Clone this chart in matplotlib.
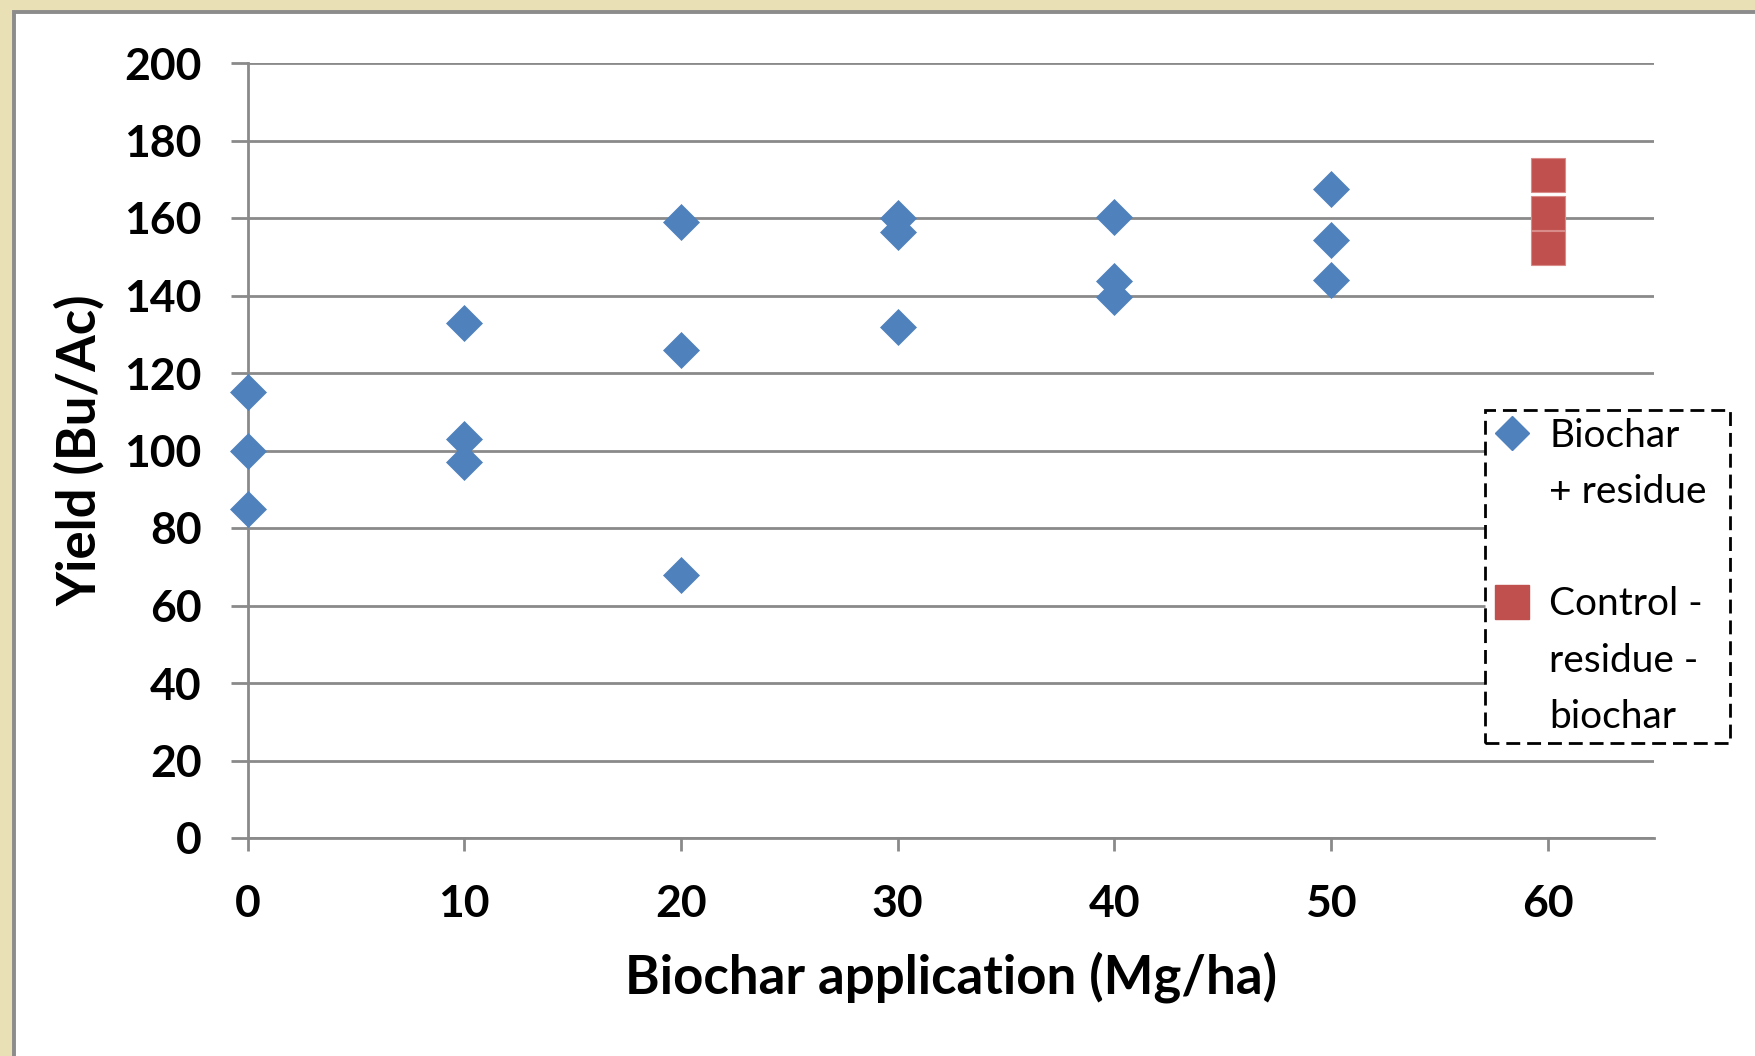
import matplotlib
matplotlib.use("Agg")
import matplotlib.pyplot as plt
from matplotlib.lines import Line2D
from matplotlib.patches import Rectangle

# ---------------- data ----------------
biochar_rate = [0, 0, 0, 10, 10, 10, 20, 20, 20, 30, 30, 30, 40, 40, 40, 50, 50, 50]
biochar_yield = [115, 100, 85, 133, 103, 97, 159, 126, 68, 160, 156.5, 132,
                 160.3, 143.8, 139.7, 167.6, 154.3, 144]
control_rate = [60, 60, 60]
control_yield = [171, 161.2, 152.3]
x_ticks = [0, 10, 20, 30, 40, 50, 60]
y_ticks = [0, 20, 40, 60, 80, 100, 120, 140, 160, 180, 200]
x_label = "Biochar application (Mg/ha)"
y_label = "Yield (Bu/Ac)"
legend_labels = ["Biochar\n+ residue", "Control -\nresidue -\nbiochar"]

# ---------------- style ----------------
FONT = ["Lato", "DejaVu Sans"]
plt.rcParams['font.family'] = FONT
BLUE = "#4F81BD"
RED = "#C0504D"
GRID = "#8a8a8a"

W, H = 1756, 1056
fig = plt.figure(figsize=(W / 100, H / 100), dpi=100, facecolor="#E9E1B5")
fig.patches.append(Rectangle((14 / W, -0.1), 1.2, (H - 12) / H + 0.1,
                             transform=fig.transFigure, facecolor="white",
                             edgecolor="#8c8c8c", lw=2.8, zorder=-10))

ax = fig.add_axes([247.5 / W, 218 / H, (1654 - 247.5) / W, 775 / H])
ax.set_facecolor("white")
ax.set_xlim(0, 64.9)
ax.set_ylim(0, 200)
ax.set_xticks(x_ticks)
ax.set_yticks(y_ticks)
ax.set_xticklabels([str(v) for v in x_ticks])
ax.set_yticklabels([str(v) for v in y_ticks])
ax.grid(axis="y", color=GRID, lw=2.0, zorder=1)
ax.set_axisbelow(True)
for s in ["top", "right"]:
    ax.spines[s].set_visible(False)
for s in ["left", "bottom"]:
    ax.spines[s].set_color(GRID)
    ax.spines[s].set_linewidth(2.0)
ax.tick_params(axis="y", direction="out", length=12, width=2.0, color=GRID,
               pad=21, labelsize=32)
ax.tick_params(axis="x", direction="out", length=9, width=2.0, color=GRID,
               pad=24, labelsize=32)
for lab in ax.get_xticklabels() + ax.get_yticklabels():
    lab.set_fontweight("bold")

ax.plot(biochar_rate, biochar_yield, ls="none", marker="D", markersize=18,
        color=BLUE, markeredgecolor=BLUE, markeredgewidth=0.5, zorder=3,
        clip_on=False)
ax.plot(control_rate, control_yield, ls="none", marker="s", markersize=25,
        color=RED, markeredgecolor="#D88B89", markeredgewidth=0.8, zorder=3,
        clip_on=False)

ax.set_xlabel(x_label, fontsize=38, fontweight="bold", labelpad=20)
ax.set_ylabel(y_label, fontsize=38, fontweight="bold", labelpad=14)

# legend: each entry's marker sits on its first text line, blank row between
handles, labels = [], []
markers = [dict(marker="D", color=BLUE, markersize=17),
           dict(marker="s", color=RED, markersize=24)]
for i, (lab, mk) in enumerate(zip(legend_labels, markers)):
    rows = lab.split("\n")
    for j, r in enumerate(rows):
        if j == 0:
            handles.append(Line2D([], [], ls="none", **mk))
        else:
            handles.append(Line2D([], [], ls="none", marker=None))
        labels.append(r)
    if i < len(legend_labels) - 1:
        handles.append(Line2D([], [], ls="none", marker=None))
        labels.append("")

leg_w = (1730 - 1485) / W
leg = ax.legend(handles, labels, loc="upper left", mode="expand",
                bbox_to_anchor=(1485 / W, 1 - 410 / H - 0.3, leg_w, 0.3),
                bbox_transform=fig.transFigure, borderaxespad=0,
                fontsize=28, frameon=True, fancybox=False,
                labelspacing=0.52, handlelength=1.0, handletextpad=0.45,
                borderpad=0.2, framealpha=1)
frame = leg.get_frame()
frame.set_edgecolor("black")
frame.set_linewidth(2.0)
frame.set_linestyle((0, (5, 2.5)))
frame.set_facecolor("white")

fig.savefig("out.png", dpi=100, facecolor=fig.get_facecolor())
